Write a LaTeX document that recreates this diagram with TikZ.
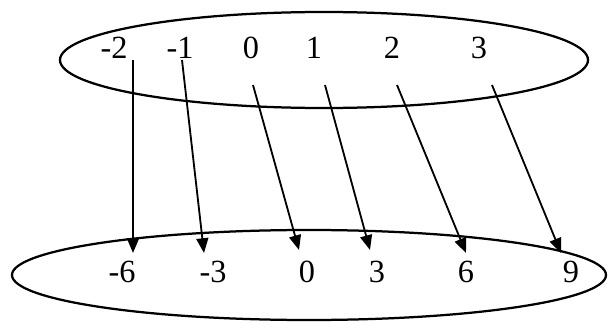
\documentclass[tikz,border=0pt]{standalone}
\usepackage{fontspec}
\setmainfont{Liberation Serif}
\usetikzlibrary{arrows.meta,positioning}

\begin{document}
\begin{tikzpicture}[>={Triangle[length=10.5pt,width=8.5pt]},
   font=\fontsize{23}{27}\selectfont,
   setline/.style={line width=1.6pt},
   num/.style={inner sep=1pt},
   map/.style={->,line width=1.3pt}]
  \useasboundingbox (0,0) rectangle (15.2,8.075);
  % the two sets
  \draw[setline] (8.1,6.575) ellipse (6.6 and 1.2);
  \draw[setline] (7.725,1.2) ellipse (7.425 and 1.125);
  % domain
  \node[num] (xm2) at (2.85,6.875) {-2};
  \node[num] (xm1) at (4.5,6.875) {-1};
  \node[num] (x0) at (6.275,6.875) {0};
  \node[num] (x1) at (7.85,6.875) {1};
  \node[num] (x2) at (9.8,6.875) {2};
  \node[num] (x3) at (11.975,6.875) {3};
  % images
  \node[num] (ym6) at (3.05,1.275) {-6};
  \node[num] (ym3) at (5.325,1.275) {-3};
  \node[num] (y0) at (7.675,1.275) {0};
  \node[num] (y3) at (9.425,1.275) {3};
  \node[num] (y6) at (11.65,1.275) {6};
  \node[num] (y9) at (14.275,1.275) {9};
  % arrow ends
  \coordinate (sm2) at (3.325,6.575);
  \coordinate (sm1) at (4.55,6.575);
  \coordinate (s0) at (6.325,5.95);
  \coordinate (s1) at (8.125,5.95);
  \coordinate (s2) at (9.925,5.95);
  \coordinate (s3) at (12.3,5.95);
  \coordinate (em6) at (3.325,1.75);
  \coordinate (em3) at (5.1,1.75);
  \coordinate (e0) at (7.475,1.825);
  \coordinate (e3) at (9.25,1.825);
  \coordinate (e6) at (11.65,1.75);
  \coordinate (e9) at (14.025,1.75);
  \draw[map] (sm2)--(em6);
  \draw[map] (sm1)--(em3);
  \draw[map] (s0)--(e0);
  \draw[map] (s1)--(e3);
  \draw[map] (s2)--(e6);
  \draw[map] (s3)--(e9);
\end{tikzpicture}
\end{document}
